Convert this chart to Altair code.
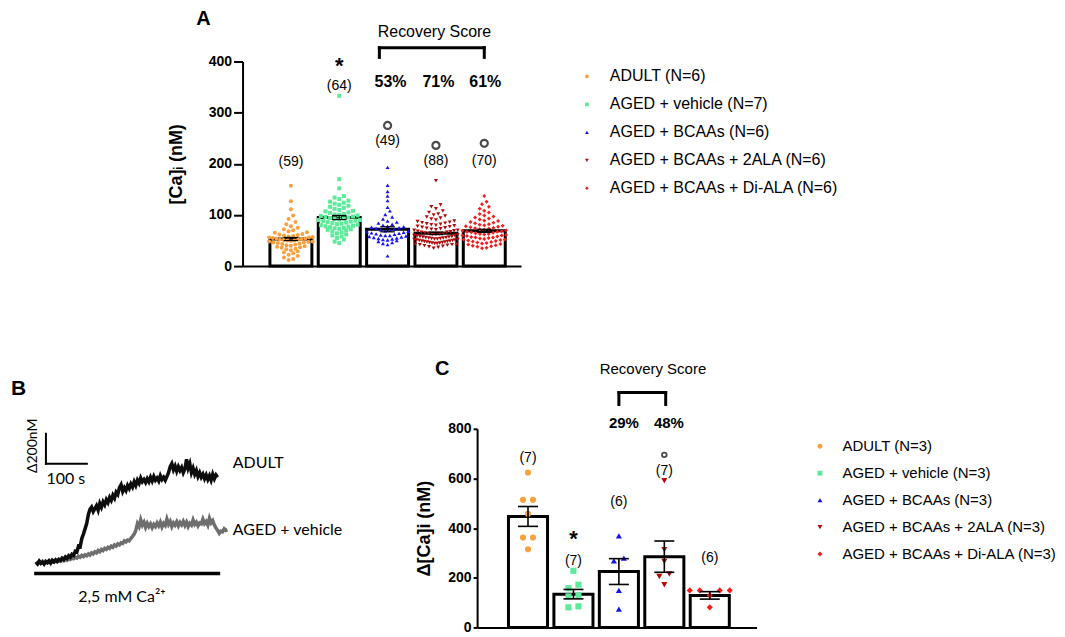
import altair as alt
import pandas as pd
import numpy as np

FONT = "Liberation Sans"
FONT_B = "Lato"

# ---------------- shared categories ----------------
groups_A = ["ADULT (N=6)", "AGED + vehicle (N=7)", "AGED + BCAAs (N=6)",
            "AGED + BCAAs + 2ALA (N=6)", "AGED + BCAAs + Di-ALA (N=6)"]
groups_C = ["ADULT (N=3)", "AGED + vehicle (N=3)", "AGED + BCAAs (N=3)",
            "AGED + BCAAs + 2ALA (N=3)", "AGED + BCAAs + Di-ALA (N=3)"]
colors = ["#F9A03F", "#5CEB9A", "#1414F0", "#B00A0A", "#F51C1C"]
shapes = ["circle", "square", "triangle-up", "triangle-down", "diamond"]

# ---------------- panel A values ----------------
A_adult = [157, 127, 111, 99, 92, 86, 82, 78, 75, 72, 70, 68, 66, 65, 63, 62, 61, 60, 59, 58,
           57, 56, 56, 55, 54, 54, 53, 52, 52, 51, 50, 50, 49, 48, 48, 47, 46, 46, 45, 44,
           43, 42, 41, 40, 39, 38, 37, 36, 34, 33, 31, 29, 27, 25, 22, 20, 17, 14, 12]
A_vehicle = [333, 170, 152, 137, 134, 131, 128, 126, 124, 122, 120, 118, 116, 114, 112, 110,
             108, 107, 105, 104, 102, 101, 100, 99, 98, 97, 96, 95, 94, 93, 92, 91, 90, 90,
             89, 88, 87, 86, 85, 84, 83, 82, 81, 80, 79, 78, 77, 76, 75, 74, 73, 72, 71, 70,
             68, 66, 64, 62, 60, 58, 55, 52, 48, 45]
A_bcaa = [193, 158, 146, 137, 128, 115, 108, 101, 96, 92, 88, 86, 84, 82, 80, 78, 77, 76, 75,
          74, 72, 71, 70, 69, 68, 67, 66, 65, 64, 63, 62, 61, 60, 60, 59, 58, 57, 56, 55, 54,
          53, 52, 51, 50, 48, 46, 44, 42, 20]
A_2ala = [167, 120, 116, 112, 108, 105, 102, 100, 98, 96, 94, 92, 90, 88, 87, 86, 85, 84, 83,
          82, 81, 80, 79, 78, 77, 76, 75, 74, 73, 72, 71, 70, 70, 69, 68, 67, 66, 66, 65, 64,
          64, 63, 62, 62, 61, 60, 60, 59, 58, 58, 57, 57, 56, 56, 55, 55, 54, 54, 53, 53, 52,
          52, 51, 51, 50, 50, 49, 49, 48, 48, 47, 47, 46, 46, 45, 45, 44, 44, 43, 43, 42, 42,
          41, 40, 39, 38, 37, 35]
A_dila = [137, 126, 121, 116, 112, 108, 105, 102, 99, 97, 95, 93, 91, 89, 88, 86, 85, 84, 82,
          81, 80, 79, 78, 77, 76, 75, 74, 73, 72, 71, 70, 69, 68, 67, 67, 66, 65, 64, 63, 63,
          62, 61, 60, 60, 59, 58, 57, 56, 56, 55, 54, 53, 52, 52, 51, 50, 49, 48, 47, 46, 45,
          44, 43, 42, 41, 40, 39, 38, 36, 35]
A_means = [53, 95, 72, 64, 69]
A_sem = [3, 4, 5, 2.5, 3]
A_counts = ["(59)", "(64)", "(49)", "(88)", "(70)"]
A_count_y = [203, 353, 244, 205, 205]
A_circle_idx = [3, 4, 5]
A_circle_y = [275, 236, 240]
A_recovery = ["53%", "71%", "61%"]
A_recovery_idx = [3.06, 4.05, 5.02]

# ---------------- panel C values ----------------
C_adult = [624, 514, 514, 458, 362, 362, 315]
C_vehicle = [228, 172, 158, 129, 125, 85, 81]
C_bcaa = [369, 279, 268, 149, 74]
C_2ala = [591, 313, 266, 215, 205, 172]
C_dila = [149, 149, 149, 149, 129, 81]
C_means = [447, 134, 225, 285, 129]
C_sem = [40, 19, 52, 63, 15]
C_counts = ["(7)", "(7)", "(6)", "(7)", "(6)"]
C_count_y = [682, 266, 507, 631, 279]
C_recovery = ["29%", "48%"]
C_recovery_idx = [3.11, 4.1]

# ---------------- panel B traces (nM above baseline, every 4 s) ----------------
B_adult = [5, -8, 10, -5, 3, -10, 8, 0, 12, -3, 15, 5, 18, 8, 22,
           15, 30, 20, 38, 28, 45, 35, 55, 48,
           75, 70, 110, 105, 160, 190, 225, 260, 320, 355, 370, 340,
           360, 380, 350, 395, 370, 405, 385, 420, 400, 435, 415, 450, 430, 470, 455,
           500, 520, 475, 500, 480, 515, 495, 525, 505, 540, 515, 550, 530, 565, 540,
           555, 535, 560, 540, 570, 545, 575, 550, 565, 545, 580, 555, 570, 550, 575,
           600, 640, 660, 620, 645, 610, 640, 615, 635, 600, 625, 690, 630, 660, 600,
           630, 590, 615, 575, 600, 570, 590, 560, 585, 555, 580, 550, 590, 560, 585, 570]
B_aged = [0, -10, 5, -5, 8, -8, 3, -2, 10, 0, 6, 2, 10, 5, 12,
          8, 18, 12, 22, 15, 25, 20, 30, 25, 35, 30, 42, 35, 48, 40,
          52, 45, 58, 50, 65, 58, 72, 65, 80, 72, 88, 80, 95, 88, 102,
          95, 110, 102, 118, 110, 125, 118, 132, 128, 145, 138, 150, 145, 162, 175,
          190, 215, 260, 240, 285, 250, 270, 235, 262, 240, 258, 232, 255, 240, 265,
          245, 270, 238, 262, 248, 290, 255, 275, 240, 265, 250, 272, 245, 268, 252,
          275, 248, 270, 240, 262, 250, 285, 255, 270, 245, 265, 258, 290, 260, 275,
          250, 295, 265, 280, 250, 230, 215, 195, 210, 205, 225, 215, 220]
B_t_adult = [4 * k for k in range(len(B_adult))]
B_t_aged = [4 * k for k in range(len(B_aged))]


# ---------------- helpers ----------------
def swarm(vals, px_per_val, px_per_idx, spacing_px, bin_px, max_half_px):
    vals = np.asarray(vals, float)
    order = np.argsort(vals, kind="stable")
    offs = np.zeros(len(vals))
    bins, cur, start = [], [], None
    for k in order:
        v = vals[k]
        if cur and (v - start) * px_per_val > bin_px:
            bins.append(cur)
            cur = []
        if not cur:
            start = v
        cur.append(k)
    if cur:
        bins.append(cur)
    for b in bins:
        n = len(b)
        sp = spacing_px
        if n > 1 and (n - 1) * sp > 2 * max_half_px:
            sp = 2 * max_half_px / (n - 1)
        slots = sorted(range(n), key=lambda j: abs(j - (n - 1) / 2))
        for k, j in zip(b, slots):
            offs[k] = (j - (n - 1) / 2) * sp / px_per_idx
    return offs


def points_df(series, groups, px_val, px_idx, spacing, bin_px, max_half):
    rows = []
    for i, (vals, g) in enumerate(zip(series, groups), start=1):
        offs = swarm(vals, px_val, px_idx, spacing, bin_px, max_half)
        for v, o in zip(vals, offs):
            rows.append({"x": i + o, "y": v, "g": g})
    return pd.DataFrame(rows)


def bar_panel(series, groups, means, sem, xdom, ydom, width, height, ticks,
              ytitle, tick_size, label_size, title_size, title_pad, half, cap,
              pt_size, px_idx, spacing, bin_px, legend, err_w):
    px_val = height / (ydom[1] - ydom[0])
    xs = alt.Scale(domain=xdom, nice=False, zero=False)
    ys = alt.Scale(domain=ydom, nice=False, zero=False)
    axx = alt.Axis(title=None, labels=False, ticks=False, grid=False,
                   domainColor="black", domainWidth=2)
    axy = alt.Axis(title=ytitle, values=ticks, grid=False, domainColor="black",
                   domainWidth=2, tickColor="black", tickWidth=2, tickSize=tick_size,
                   labelFont=FONT, labelFontWeight="bold", labelFontSize=label_size,
                   labelColor="black", labelPadding=2, titleFont=FONT,
                   titleFontWeight="bold", titleFontSize=title_size, titleColor="black",
                   titlePadding=title_pad)

    def X(f):
        return alt.X(f, type="quantitative", scale=xs, axis=axx)

    def Y(f):
        return alt.Y(f, type="quantitative", scale=ys, axis=axy)

    idx = list(range(1, 6))
    bars = pd.DataFrame({"x": [i - half for i in idx], "x2": [i + half for i in idx],
                         "y": means, "y2": [0] * 5})
    bar_layer = alt.Chart(bars).mark_rect(fill="white", stroke="black", strokeWidth=3).encode(
        x=X("x"), x2="x2", y=Y("y"), y2="y2")

    pts = points_df(series, groups, px_val, px_idx, spacing, bin_px, 0.45 * px_idx)
    pt_layer = alt.Chart(pts).mark_point(filled=True, size=pt_size, opacity=1).encode(
        x=X("x"), y=Y("y"),
        color=alt.Color("g:N", scale=alt.Scale(domain=groups, range=colors), legend=legend),
        shape=alt.Shape("g:N", scale=alt.Scale(domain=groups, range=shapes), legend=legend))

    err = pd.DataFrame({"x": idx, "y": [m - s for m, s in zip(means, sem)],
                        "y2": [m + s for m, s in zip(means, sem)]})
    err_layer = alt.Chart(err).mark_rule(color="black", strokeWidth=err_w).encode(
        x=X("x"), y=Y("y"), y2="y2")
    caps = pd.DataFrame({"x": [i - cap for i in idx] * 2, "x2": [i + cap for i in idx] * 2,
                         "y": list(err["y"]) + list(err["y2"])})
    cap_layer = alt.Chart(caps).mark_rule(color="black", strokeWidth=err_w).encode(
        x=X("x"), x2="x2", y=Y("y"))
    return X, Y, [bar_layer, pt_layer, err_layer, cap_layer]


def text_layer(X, Y, xs, ys, texts, size, weight="normal", font=FONT, align="center", angle=0):
    df = pd.DataFrame({"x": xs, "y": ys, "t": texts})
    return alt.Chart(df).mark_text(font=font, fontSize=size, fontWeight=weight, color="black",
                                   align=align, baseline="middle", angle=angle).encode(
        x=X("x"), y=Y("y"), text="t:N")


def rule_layer(X, Y, segs, width=3, color="black"):
    df = pd.DataFrame(segs, columns=["x", "x2", "y", "y2"])
    return alt.Chart(df).mark_rule(color=color, strokeWidth=width, strokeCap="square").encode(
        x=X("x"), x2="x2", y=Y("y"), y2="y2")


# ---------------- panel A ----------------
legA = alt.Legend(title=None, orient="none", legendX=337, legendY=7, labelFont=FONT,
                  labelFontSize=16, labelColor="black", symbolSize=14, rowPadding=12,
                  labelOffset=15, symbolStrokeWidth=0, labelLimit=0)
XA, YA, layersA = bar_panel([A_adult, A_vehicle, A_bcaa, A_2ala, A_dila], groups_A, A_means,
                            A_sem, [0, 5.76], [0, 400], 279, 205, [0, 100, 200, 300, 400],
                            "[Ca]ᵢ (nM)", 9, 14, 18, 23, 0.434, 0.15, 16, 48.4, 4.6, 4.5, legA,
                            1.2)
layersA += [
    text_layer(XA, YA, [1, 2, 3, 4, 5], A_count_y, A_counts, 14),
    text_layer(XA, YA, [2], [392], ["*"], 22, "bold"),
    text_layer(XA, YA, A_recovery_idx, [359] * 3, A_recovery, 16, "bold"),
    text_layer(XA, YA, [3.97], [458], ["Recovery Score"], 16),
    text_layer(XA, YA, [-0.81], [484], ["A"], 20, "bold"),
    rule_layer(XA, YA, [[2.83, 5.0, 427, 427], [2.83, 2.83, 408, 427], [5.0, 5.0, 408, 427]]),
    alt.Chart(pd.DataFrame({"x": A_circle_idx, "y": A_circle_y})).mark_point(
        shape="circle", filled=False, color="black", strokeWidth=2.2, size=50).encode(
        x=XA("x"), y=YA("y")),
]
panelA = alt.layer(*layersA).properties(width=279, height=205)

# ---------------- panel C ----------------
legC = alt.Legend(title=None, orient="none", legendX=336, legendY=10, labelFont=FONT,
                  labelFontSize=15, labelColor="black", symbolSize=24, rowPadding=11,
                  labelOffset=15, symbolStrokeWidth=0, labelLimit=0)
XC, YC, layersC = bar_panel([C_adult, C_vehicle, C_bcaa, C_2ala, C_dila], groups_C, C_means,
                            C_sem, [-0.12, 6.03], [0, 800], 280, 199, [0, 200, 400, 600, 800],
                            "Δ[Ca]i (nM)", 4, 14, 18, 14, 0.43, 0.22, 38, 45.5, 10, 8, legC,
                            1.6)
layersC += [
    text_layer(XC, YC, [1, 2, 3, 4, 5], C_count_y, C_counts, 14),
    text_layer(XC, YC, [2], [356], ["*"], 22, "bold"),
    text_layer(XC, YC, C_recovery_idx, [822] * 2, C_recovery, 15, "bold"),
    text_layer(XC, YC, [3.75], [1039], ["Recovery Score"], 15),
    text_layer(XC, YC, [-0.89], [1039], ["C"], 20, "bold"),
    rule_layer(XC, YC, [[3.0, 4.03, 946, 946], [3.0, 3.0, 898, 946], [4.03, 4.03, 898, 946]]),
    alt.Chart(pd.DataFrame({"x": [4], "y": [695]})).mark_point(
        shape="circle", filled=False, color="black", strokeWidth=1.8, size=22).encode(
        x=XC("x"), y=YC("y")),
]
panelC = alt.layer(*layersC).properties(width=280, height=199)

# ---------------- panel B ----------------
tpp = 100 / 41.0          # seconds per pixel
npp = 200 / 30.0          # nM per pixel
xB = alt.Scale(domain=[-25 * tpp, -25 * tpp + 340 * tpp], nice=False, zero=False)
yB = alt.Scale(domain=[-51 * npp, 134 * npp], nice=False, zero=False)


def XB(f):
    return alt.X(f, type="quantitative", scale=xB, axis=None)


def YB(f):
    return alt.Y(f, type="quantitative", scale=yB, axis=None)


aged_line = alt.Chart(pd.DataFrame({"t": B_t_aged, "v": B_aged})).mark_line(
    color="#6e6e6e", strokeWidth=3.5).encode(x=XB("t"), y=YB("v"))
adult_line = alt.Chart(pd.DataFrame({"t": B_t_adult, "v": B_adult})).mark_line(
    color="#0d0d0d", strokeWidth=3.5).encode(x=XB("t"), y=YB("v"))
scale_bar = rule_layer(XB, YB, [[24.4, 24.4, 660, 860], [24.4, 124.4, 660, 660]], width=2)
base_bar = rule_layer(XB, YB, [[0, 446, -73, -73]], width=3.5)
panelB = alt.layer(
    aged_line, adult_line, scale_bar, base_bar,
    text_layer(XB, YB, [481], [667], ["ADULT"], 16, font=FONT_B, align="left"),
    text_layer(XB, YB, [481], [220], ["AGED + vehicle"], 16, font=FONT_B, align="left"),
    text_layer(XB, YB, [73], [560], ["100 s"], 16, font=FONT_B),
    text_layer(XB, YB, [-7], [780], ["Δ200nM"], 14, font=FONT_B, angle=270),
    text_layer(XB, YB, [210], [-227], ["2,5 mM Ca²⁺"], 16, font=FONT_B),
    text_layer(XB, YB, [-25 * tpp], [1160], ["B"], 21, "bold", align="left"),
).properties(width=340, height=185)

# ---------------- layout ----------------
spacer = alt.Chart(pd.DataFrame({"a": [0]})).mark_point(opacity=0).encode(
    x=alt.value(0), y=alt.value(0)).properties(width=156, height=10)

rowA = alt.hconcat(spacer, panelA, spacing=0).resolve_scale(color="independent", shape="independent")
rowBC = alt.hconcat(panelB, panelC, spacing=65).resolve_scale(color="independent", shape="independent")

chart = alt.vconcat(rowA, rowBC, spacing=86).resolve_scale(
    color="independent", shape="independent").configure_view(stroke=None).properties(
    padding={"left": 0, "top": -1, "right": 0, "bottom": 0}, background="white")

chart.save("out.html", embed_options={"renderer": "svg", "actions": False})
